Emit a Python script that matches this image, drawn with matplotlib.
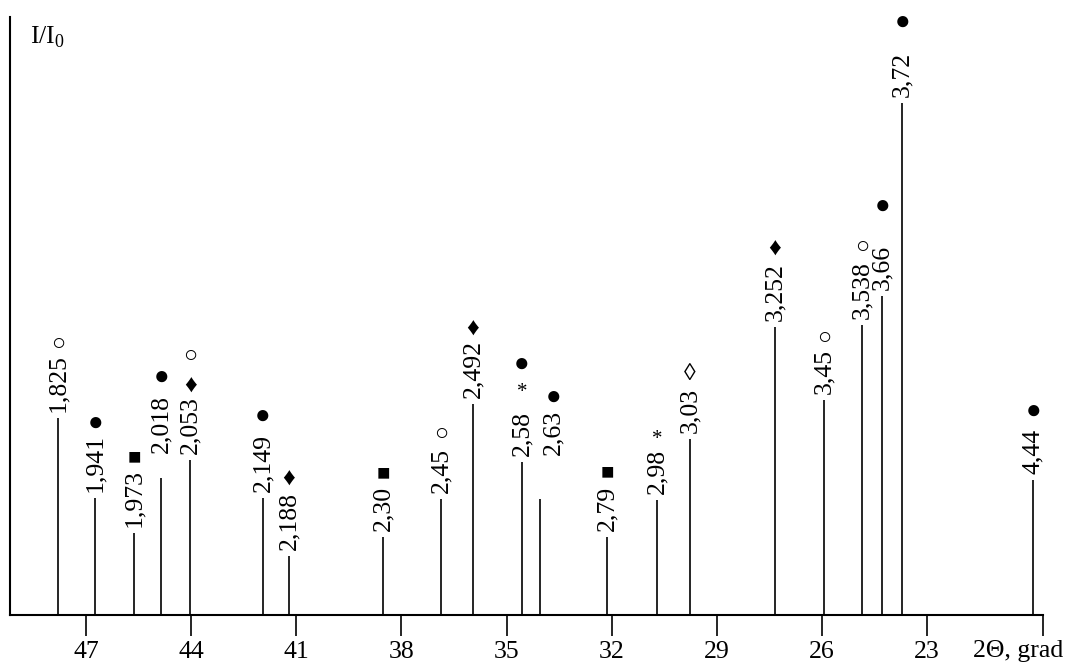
import matplotlib
matplotlib.use("Agg")
import matplotlib.pyplot as plt

# ---- data ----
two_theta = [47.80, 46.74, 45.63, 44.86, 44.03, 41.95, 41.21, 38.52, 36.87, 35.96,
             34.56, 34.04, 32.13, 30.70, 29.76, 27.34, 25.94, 24.85, 24.28, 23.71, 19.97]
intensity = [38.5, 22.9, 16.0, 26.8, 30.3, 22.9, 11.5, 15.2, 22.7, 41.2,
             29.9, 22.7, 15.2, 22.5, 34.4, 56.3, 42.0, 56.6, 62.3, 100.0, 26.4]
d_labels = ['1,825', '1,941', '1,973', '2,018', '2,053', '2,149', '2,188', '2,30', '2,45', '2,492',
            '2,58', '2,63', '2,79', '2,98', '3,03', '3,252', '3,45', '3,538', '3,66', '3,72', '4,44']
phase_marks = [['○'], ['●'], ['■'], ['●'], ['♦', '○'], ['●'], ['♦'], ['■'], ['○'], ['♦'],
               ['*', '●'], ['●'], ['■'], ['*'], ['◊'], ['♦'], ['○'], ['○'], ['●'], ['●'], ['●']]
x_ticks = [47, 44, 41, 38, 35, 32, 29, 26, 23]
x_tick_labels = ['47', '44', '41', '38', '35', '32', '29', '26', '23']
x_axis_title = '2Θ, grad'
y_axis_title = r'I/I$_\mathregular{0}$'

# ---- style / layout ----
SERIF = ['Liberation Serif', 'DejaVu Serif']
plt.rcParams['font.family'] = SERIF
plt.rcParams['mathtext.fontset'] = 'custom'
plt.rcParams['mathtext.rm'] = 'Liberation Serif'
FS = 18.5
PX = 0.72  # points per pixel at dpi 100

# distance (px) from top of the d-label to the centre of each phase symbol
mark_dist_px = [[10], [10], [10], [17], [9, 39], [17], [12], [11], [13], [10],
                [18, 46], [12], [12], [9], [13], [13], [10], [14], [38], [29], [17]]
glyph_size = {'●': 18.5, '○': 17, '■': 16, '♦': 18, '◊': 17, '*': 15}
# special label placements (px): raised / shifted labels
label_shift_px = {'2,018': (0, 25), '2,63': (13, 44)}

fig = plt.figure(figsize=(10.65, 6.63), dpi=100)
ax = fig.add_axes([10 / 1065, 48 / 663, (1043 - 10) / 1065, (615 - 17) / 663])

x_left, x_right = 49.17, 19.69
ax.set_xlim(x_left, x_right)
ax.set_ylim(0, 116.8)

ax.vlines(two_theta, 0, intensity, colors='black', linewidth=1.2)

for x, y, d, marks, dists in zip(two_theta, intensity, d_labels, phase_marks, mark_dist_px):
    sx, sy = label_shift_px.get(d, (0, 6))
    lab = ax.annotate(d, xy=(x, y), xytext=(sx * PX, sy * PX), textcoords='offset points',
                      rotation=90, ha='center', va='bottom', fontsize=FS, family=SERIF)
    for m, dist in zip(marks, dists):
        ax.annotate(m, xy=(0.5, 1.0), xycoords=lab,
                    xytext=(0, dist * PX), textcoords='offset points',
                    ha='center', va='center', fontsize=glyph_size[m], family=SERIF)

for s in ['top', 'right']:
    ax.spines[s].set_visible(False)
for s in ['left', 'bottom']:
    ax.spines[s].set_linewidth(1.5)
ax.set_yticks([])
ax.set_xticks(x_ticks + [x_right])
ax.set_xticklabels(x_tick_labels + [''], fontsize=FS)
ax.tick_params(axis='x', direction='out', length=15, width=1.2, pad=4)

ax.text(20 / 1033, (615 - 24) / 598, y_axis_title, transform=ax.transAxes,
        ha='left', va='top', fontsize=FS)
fig.text(1063 / 1065, 1 - 651 / 663, x_axis_title, ha='right', va='center', fontsize=FS)

fig.savefig('out.png', dpi=100)
